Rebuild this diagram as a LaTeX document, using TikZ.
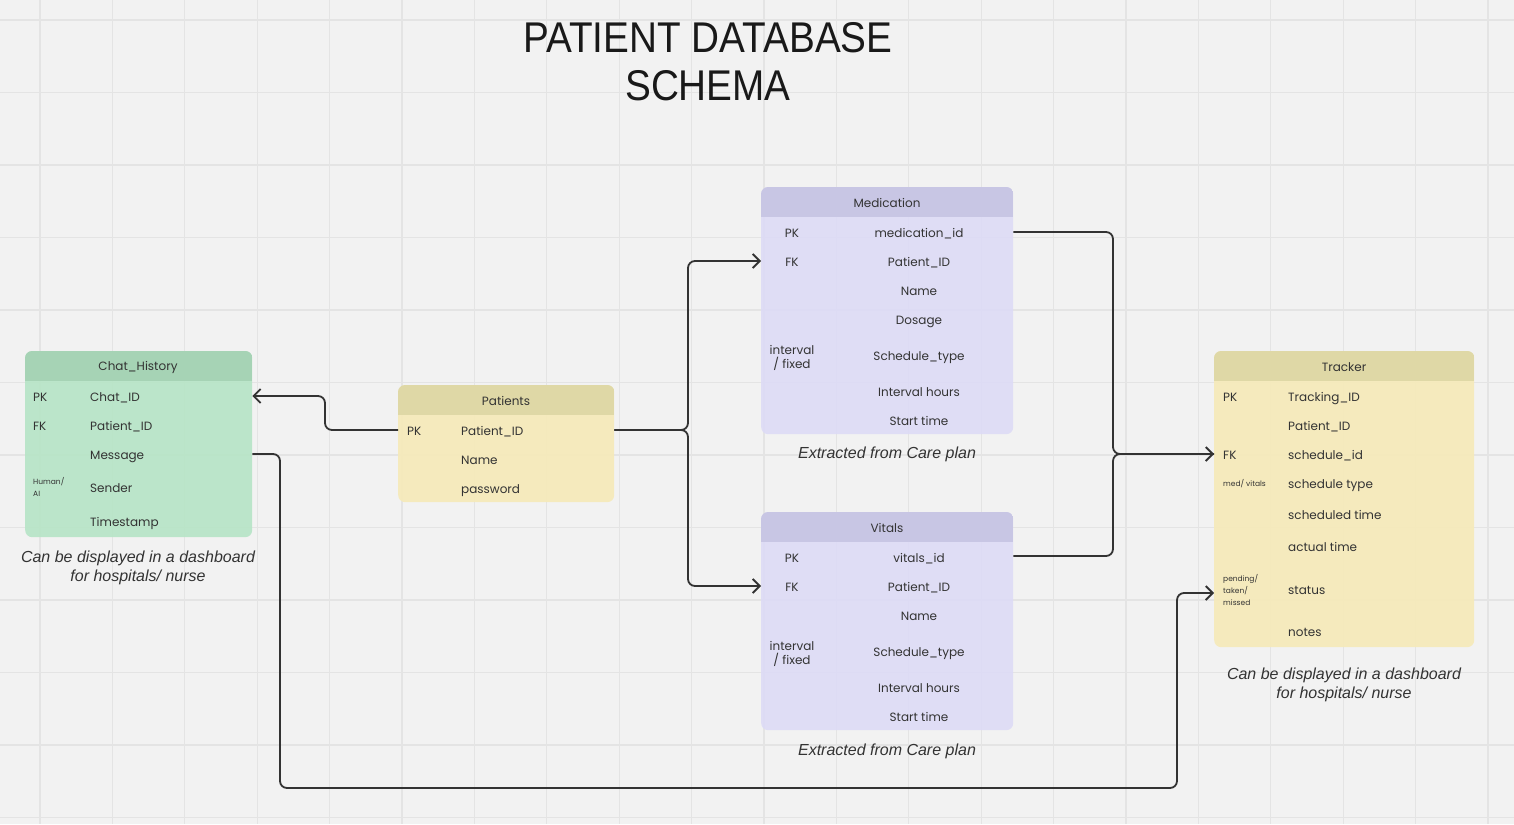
\documentclass[tikz,border=0pt]{standalone}
\usepackage{fontspec}
\setmainfont{Poppins}
\newfontfamily\capfont{Liberation Sans}
\usetikzlibrary{arrows.meta}

\definecolor{paper}{HTML}{F2F2F2}
\definecolor{gridc}{HTML}{E4E4E4}
\definecolor{ink}{HTML}{333333}
\definecolor{greenbody}{HTML}{B6E4C6}
\definecolor{greenhead}{HTML}{A6D3B5}
\definecolor{yellowbody}{HTML}{F6EAB8}
\definecolor{yellowhead}{HTML}{DFD8A6}
\definecolor{purplebody}{HTML}{DDDBF6}
\definecolor{purplehead}{HTML}{C8C6E4}

\tikzset{
  gridline/.style={draw=gridc, line width=1.2pt},
  tabbox/.style={rounded corners=7pt, fill opacity=0.9, anchor=north west, inner sep=0pt},
  head/.style={text=ink, font=\fontsize{12}{14}\selectfont, yshift=-1pt},
  field/.style={text=ink, font=\fontsize{12}{14}\selectfont, inner sep=0pt, text height=0.75em, text depth=0.25em, yshift=-2.5pt},
  tiny/.style={text=ink, font=\fontsize{7.5}{12}\selectfont, inner sep=0pt, align=left, yshift=-1pt},
  caption/.style={text=ink, align=center, font=\capfont\itshape\fontsize{16}{19}\selectfont, yshift=-2pt},
  conn/.style={draw=ink, line width=1.8pt, rounded corners=7pt},
  tip/.style={-{Straight Barb[length=7pt,width=14pt,line width=1.8pt]}}
}

\begin{document}
\begin{tikzpicture}[x=1pt, y=-1pt]
  \fill[paper] (0,0) rectangle (1514,824);
  \useasboundingbox (0,0) rectangle (1514,824);

  % grid
  \foreach \i in {0,...,20}
    \draw[gridline] ({40+72.4*\i},0) -- ({40+72.4*\i},824);
  \foreach \j in {0,...,11}
    \draw[gridline] (0,{20+72.5*\j}) -- (1514,{20+72.5*\j});

  % title
  \node[text=black!90, align=center, font=\capfont\fontsize{43}{48}\selectfont] (ttl) at (708,62)
    {\scalebox{0.9}[1]{PATIENT DATABASE}\\\scalebox{0.9}[1]{SCHEMA}};

  % Chat_History
  \node[tabbox, fill=greenbody, minimum width=227pt, minimum height=186pt] (chat) at (25,351) {};
  \begin{scope}
    \clip[rounded corners=7pt] (chat.south west) rectangle (chat.north east);
    \fill[greenhead] (chat.north west) rectangle ([yshift=-30pt]chat.north east);
  \end{scope}
  \node[head] (chathead) at (138,366) {Chat\_History};
  \foreach \y/\t [count=\i] in {396/Chat\_ID, 425/Patient\_ID, 454/Message, 487/Sender, 521/Timestamp}
    \node[field, anchor=west] (c\i) at (90,\y) {\t};
  \node[field, anchor=west] (cpk) at (33,396) {PK};
  \node[field, anchor=west] (cfk) at (33,425) {FK};
  \node[tiny, anchor=west] (csend) at (33,486) {Human/\\AI};
  \node[caption] (chatcap) at (138,566) {Can be displayed in a dashboard\\for hospitals/ nurse};

  % Patients
  \node[tabbox, fill=yellowbody, minimum width=216pt, minimum height=117pt] (pat) at (398,385) {};
  \begin{scope}
    \clip[rounded corners=7pt] (pat.south west) rectangle (pat.north east);
    \fill[yellowhead] (pat.north west) rectangle ([yshift=-30pt]pat.north east);
  \end{scope}
  \node[head] (pathead) at (506,400) {Patients};
  \foreach \y/\t [count=\i] in {430/Patient\_ID, 459/Name, 488/password}
    \node[field, anchor=west] (p\i) at (461,\y) {\t};
  \node[field, anchor=west] (ppk) at (407,430) {PK};

  % Medication
  \node[tabbox, fill=purplebody, minimum width=252pt, minimum height=247pt] (med) at (761,187) {};
  \begin{scope}
    \clip[rounded corners=7pt] (med.south west) rectangle (med.north east);
    \fill[purplehead] (med.north west) rectangle ([yshift=-30pt]med.north east);
  \end{scope}
  \node[head] (medhead) at (887,202) {Medication};
  \foreach \y/\t [count=\i] in {232/medication\_id, 261/Patient\_ID, 290/Name, 319/Dosage,
      355/Schedule\_type, 391/Interval hours, 420/Start time}
    \node[field] (m\i) at (919,\y) {\t};
  \node[field] (mpk) at (792,232) {PK};
  \node[field] (mfk) at (792,261) {FK};
  \node[field, align=center, text height=, text depth=] (mtype) at (792,355) {interval\\/ fixed};
  \node[caption] (medcap) at (887,452) {Extracted from Care plan};

  % Vitals
  \node[tabbox, fill=purplebody, minimum width=252pt, minimum height=218pt] (vit) at (761,512) {};
  \begin{scope}
    \clip[rounded corners=7pt] (vit.south west) rectangle (vit.north east);
    \fill[purplehead] (vit.north west) rectangle ([yshift=-30pt]vit.north east);
  \end{scope}
  \node[head] (vithead) at (887,527) {Vitals};
  \foreach \y/\t [count=\i] in {557/vitals\_id, 586/Patient\_ID, 615/Name,
      651/Schedule\_type, 687/Interval hours, 716/Start time}
    \node[field] (v\i) at (919,\y) {\t};
  \node[field] (vpk) at (792,557) {PK};
  \node[field] (vfk) at (792,586) {FK};
  \node[field, align=center, text height=, text depth=] (vtype) at (792,651) {interval\\/ fixed};
  \node[caption] (vitcap) at (887,749) {Extracted from Care plan};

  % Tracker
  \node[tabbox, fill=yellowbody, minimum width=260pt, minimum height=296pt] (trk) at (1214,351) {};
  \begin{scope}
    \clip[rounded corners=7pt] (trk.south west) rectangle (trk.north east);
    \fill[yellowhead] (trk.north west) rectangle ([yshift=-30pt]trk.north east);
  \end{scope}
  \node[head] (trkhead) at (1344,366) {Tracker};
  \foreach \y/\t [count=\i] in {396/Tracking\_ID, 425/Patient\_ID, 454/schedule\_id, 483/schedule type,
      514/scheduled time, 546/actual time, 589/status, 631/notes}
    \node[field, anchor=west] (t\i) at (1288,\y) {\t};
  \node[field, anchor=west] (tpk) at (1223,396) {PK};
  \node[field, anchor=west] (tfk) at (1223,454) {FK};
  \node[tiny, anchor=west] (tkind) at (1223,483) {med/ vitals};
  \node[tiny, anchor=west] (tstat) at (1223,589) {pending/\\taken/\\missed};
  \node[caption] (trkcap) at (1344,683) {Can be displayed in a dashboard\\for hospitals/ nurse};

  % connectors
  \draw[conn, tip] (pat.west |- 0,430) -- (325,430) |- (chat.east |- 0,396);
  \draw[conn, tip] (pat.east |- 0,430) -- (688,430) |- (med.west |- 0,261);
  \draw[conn, tip] (pat.east |- 0,430) -- (688,430) |- (vit.west |- 0,586);
  \draw[conn] (med.east |- 0,232) -| (1113,454) -- (trk.west |- 0,454);
  \draw[conn, tip] (vit.east |- 0,556) -| (1113,454) -- (trk.west |- 0,454);
  \draw[conn, tip] (chat.east |- 0,454) -| (280,788) -| (1177,593) -- (trk.west |- 0,593);
\end{tikzpicture}
\end{document}
